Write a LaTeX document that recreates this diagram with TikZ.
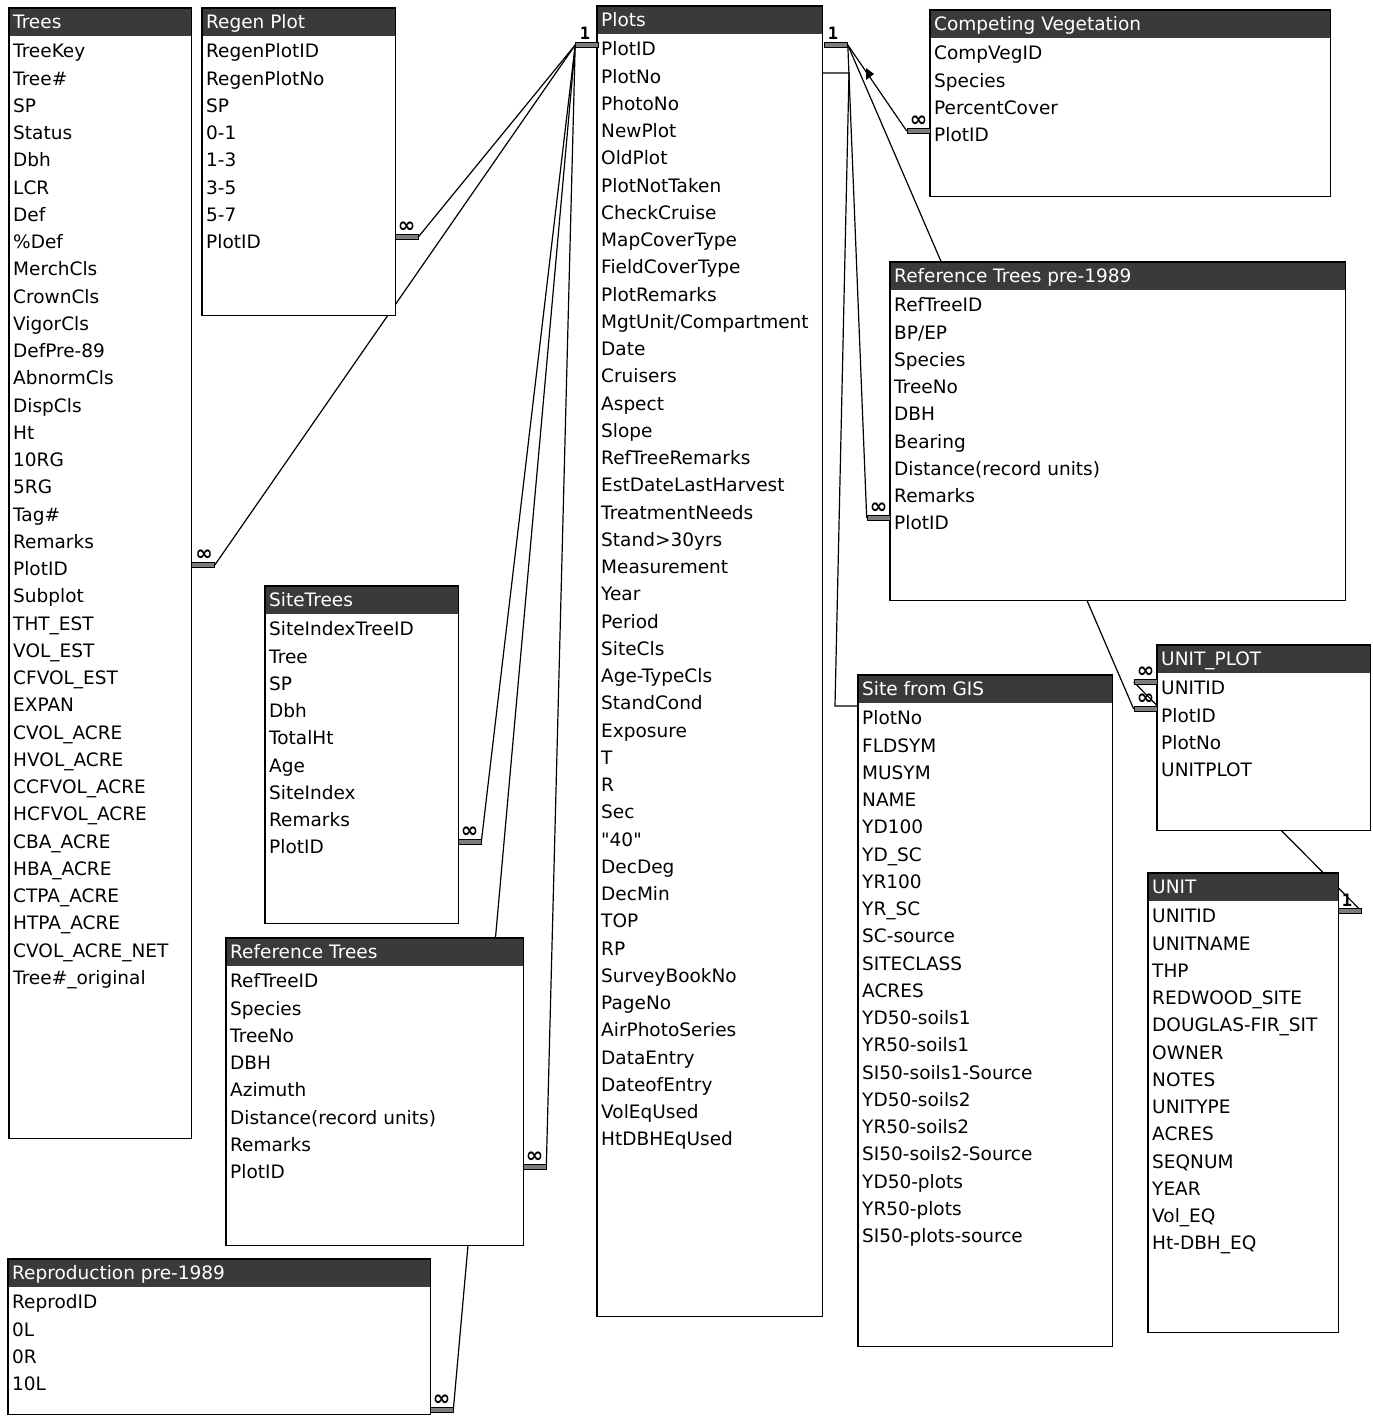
\documentclass[tikz,border=0pt]{standalone}
\usepackage{fontspec}
\setmainfont{DejaVu Sans}[Ligatures=TeXOff]
\newfontfamily\markfont{DejaVu Sans Mono}
\pgfdeclarelayer{bg}
\pgfsetlayers{bg,main}
\definecolor{titlegray}{RGB}{58,58,58}
\definecolor{bargray}{RGB}{125,125,125}
\tikzset{
  tablebox/.style={fill=white, inner sep=0pt, anchor=north west},
  titlebar/.style={fill=titlegray, inner sep=0pt, anchor=north west, minimum height=28pt},
  titletext/.style={text=white, inner sep=0pt, anchor=west, font=\fontsize{18.5}{20}\selectfont, text height=13.5pt, text depth=0pt},
  fieldtext/.style={text=black, inner sep=0pt, anchor=west, font=\fontsize{18.5}{20}\selectfont, text height=13.5pt, text depth=0pt},
  boxedge/.style={line width=1.5pt},
  relline/.style={line width=1.2pt},
  keybar/.style={draw=black, line width=0.6pt, fill=bargray, inner sep=0pt, minimum height=4.5pt, minimum width=23pt},
  manymark/.style={font=\fontsize{21}{21}\bfseries\selectfont, inner sep=0pt, anchor=south},
  onemark/.style={font=\markfont\fontsize{17}{17}\bfseries\selectfont, inner sep=0pt, anchor=south},
}
% #1 name, #2 left, #3 right, #4 title centre y, #5 bottom, #6 title, #7 fields
\newcommand{\dbtable}[7]{%
  \pgfmathsetmacro\dbW{#3-#2}%
  \pgfmathsetmacro\dbH{#5-#4+14}%
  \node[tablebox, minimum width=\dbW pt, minimum height=\dbH pt] (#1) at (#2,#4-14) {};
  \node[titlebar, minimum width=\dbW pt] (#1-bar) at (#2,#4-14) {};
  \node[titletext] (#1-title) at (#2+4,#4) {#6};
  \foreach \f [count=\i from 0] in {#7} {\node[fieldtext] (#1-\i) at (#2+4,#4+29+27.25*\i) {\f};}
  \draw[boxedge] (#1.north west) rectangle (#1.south east);
}
\begin{document}
\begin{tikzpicture}[x=1pt,y=-1pt]
\useasboundingbox (0,0) rectangle (1373,1416);

\dbtable{Trees}{9}{191}{22}{1138}{Trees}{TreeKey,Tree\#,SP,Status,Dbh,LCR,Def,\%Def,MerchCls,CrownCls,VigorCls,DefPre-89,AbnormCls,DispCls,Ht,10RG,5RG,Tag\#,Remarks,PlotID,Subplot,THT\_EST,VOL\_EST,CFVOL\_EST,EXPAN,CVOL\_ACRE,HVOL\_ACRE,CCFVOL\_ACRE,HCFVOL\_ACRE,CBA\_ACRE,HBA\_ACRE,CTPA\_ACRE,HTPA\_ACRE,CVOL\_ACRE\_NET,Tree\#\_original}
\dbtable{Regen}{202}{395}{22}{315}{Regen Plot}{RegenPlotID,RegenPlotNo,SP,0-1,1-3,3-5,5-7,PlotID}
\dbtable{Plots}{597}{822}{20}{1316}{Plots}{PlotID,PlotNo,PhotoNo,NewPlot,OldPlot,PlotNotTaken,CheckCruise,MapCoverType,FieldCoverType,PlotRemarks,MgtUnit/Compartment,Date,Cruisers,Aspect,Slope,RefTreeRemarks,EstDateLastHarvest,TreatmentNeeds,Stand>30yrs,Measurement,Year,Period,SiteCls,Age-TypeCls,StandCond,Exposure,T,R,Sec,"40",DecDeg,DecMin,TOP,RP,SurveyBookNo,PageNo,AirPhotoSeries,DataEntry,DateofEntry,VolEqUsed,HtDBHEqUsed}
\dbtable{CompVeg}{930}{1330}{24}{196}{Competing Vegetation}{CompVegID,Species,PercentCover,PlotID}
\dbtable{RefPre}{890}{1345}{276}{600}{Reference Trees pre-1989}{RefTreeID,BP/EP,Species,TreeNo,DBH,Bearing,Distance(record units),Remarks,PlotID}
\dbtable{UnitPlot}{1157}{1370}{659}{830}{UNIT\_PLOT}{UNITID,PlotID,PlotNo,UNITPLOT}
\dbtable{SiteGIS}{858}{1112}{689}{1346}{Site from GIS}{PlotNo,FLDSYM,MUSYM,NAME,YD100,YD\_SC,YR100,YR\_SC,SC-source,SITECLASS,ACRES,YD50-soils1,YR50-soils1,SI50-soils1-Source,YD50-soils2,YR50-soils2,SI50-soils2-Source,YD50-plots,YR50-plots,SI50-plots-source}
\dbtable{Unit}{1148}{1338}{887}{1332}{UNIT}{UNITID,UNITNAME,THP,REDWOOD\_SITE,DOUGLAS-FIR\_SIT,OWNER,NOTES,UNITYPE,ACRES,SEQNUM,YEAR,Vol\_EQ,Ht-DBH\_EQ}
\dbtable{SiteTrees}{265}{458}{600}{923}{SiteTrees}{SiteIndexTreeID,Tree,SP,Dbh,TotalHt,Age,SiteIndex,Remarks,PlotID}
\dbtable{RefTrees}{226}{523}{952}{1245}{Reference Trees}{RefTreeID,Species,TreeNo,DBH,Azimuth,Distance(record units),Remarks,PlotID}
\dbtable{Repro}{8}{430}{1273}{1414}{Reproduction pre-1989}{ReprodID,0L,0R,10L}

% key stubs
\node[keybar] (barPL) at (587,45) {};
\node[keybar] (barPR) at (836,45) {};
\node[keybar] (barRegen) at (406.5,237) {};
\node[keybar] (barTrees) at (203,565) {};
\node[keybar] (barSite) at (469.5,842) {};
\node[keybar] (barRef) at (534.5,1167) {};
\node[keybar] (barRepro) at (441.5,1410) {};
\node[keybar] (barComp) at (918.5,131) {};
\node[keybar] (barRefPre) at (878.5,518) {};
\node[keybar] (barUPu) at (1145.5,682) {};
\node[keybar] (barUPp) at (1145.5,709) {};
\node[keybar] (barUnit) at (1349.5,911) {};

% multiplicity marks
\node[onemark] (oneL) at (585,40) {1};
\node[onemark] (oneR) at (833,40) {1};
\node[onemark] (oneU) at (1347,907) {1};
\node[manymark] (mRegen) at (406.5,233) {∞};
\node[manymark] (mTrees) at (204,561) {∞};
\node[manymark] (mSite) at (469.5,838) {∞};
\node[manymark] (mRef) at (534.5,1163) {∞};
\node[manymark] (mRepro) at (441.5,1406) {∞};
\node[manymark] (mComp) at (918.5,127) {∞};
\node[manymark] (mRefPre) at (878.5,514) {∞};
\node[manymark] (mUPu) at (1145.5,678) {∞};
\node[manymark] (mUPp) at (1145.5,705) {∞};

\coordinate (stubP) at (849,73);
\coordinate (stubS) at (835,706);
\fill (866,68) -- (866,80) -- (874,74) -- cycle;

\begin{pgfonlayer}{bg}
  \fill[white] (0,0) rectangle (1373,1416);
  \draw[relline] (barPL.west) -- (barRegen.east);
  \draw[relline] (barPL.west) -- (barTrees.east);
  \draw[relline] (barPL.west) -- (barSite.east);
  \draw[relline] (barPL.west) -- (barRef.east);
  \draw[relline] (barPL.west) -- (barRepro.east);
  \draw[relline] (barPR.east) -- (barComp.west);
  \draw[relline] (barPR.east) -- (barRefPre.west);
  \draw[relline] (barPR.east) -- (barUPp.west);
  \draw[relline] (Plots.east |- stubP) -- (stubP) -- (stubS) -- (SiteGIS.west |- stubS);
  \draw[relline] (barUPu.west) -- (barUnit.east);
\end{pgfonlayer}
\end{tikzpicture}
\end{document}
